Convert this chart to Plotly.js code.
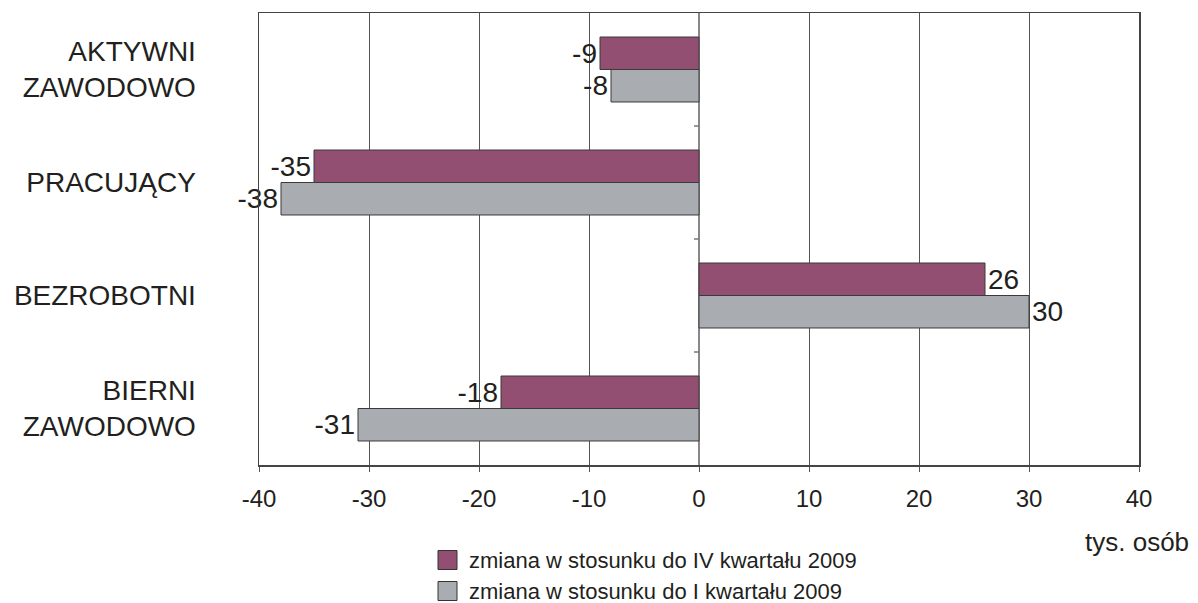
<!DOCTYPE html>
<html>
<head>
<meta charset="utf-8">
<script src="https://cdn.plot.ly/plotly-3.0.1.min.js"></script>
<style>html,body{margin:0;padding:0;background:#fff;}#chart{width:1198px;height:603px;}</style>
</head>
<body>
<div id="chart"></div>
<script>
const categories = ["AKTYWNI<br>ZAWODOWO", "PRACUJĄCY", "BEZROBOTNI", "BIERNI<br>ZAWODOWO"];
const seriesNames = ["zmiana w stosunku do IV kwartału 2009", "zmiana w stosunku do I kwartału 2009"];
const seriesColors = ["#934f72", "#a9acb1"];
const vsQ4_2009 = [-9, -35, 26, -18];
const vsQ1_2009 = [-8, -38, 30, -31];
const xTicks = [-40, -30, -20, -10, 0, 10, 20, 30, 40];
const unitLabel = "tys. osób";

const fontFam = "Liberation Sans, Arial, sans-serif";
const txtCol = "#231f20";

function barTrace(name, vals, color) {
  return {
    type: "bar", orientation: "h", name: name,
    y: categories, x: vals,
    marker: {color: color, line: {color: "#3a3a3a", width: 1}},
    text: vals.map(String), textposition: "outside", constraintext: "none",
    cliponaxis: false,
    textfont: {family: fontFam, size: 28, color: txtCol},
    hoverinfo: "x+name"
  };
}

const data = [
  barTrace(seriesNames[0], vsQ4_2009, seriesColors[0]),
  barTrace(seriesNames[1], vsQ1_2009, seriesColors[1])
];

// plot area in pixels
const W = 1198, H = 603, ML = 259, MR = 59, MT = 13, MB = 138;
const PW = W - ML - MR, PH = H - MT - MB;
const px2x = p => (p - ML) / PW;
const px2y = p => (H - MB - p) / PH;

const shapes = [0.5, 1.5, 2.5].map(v => ({
  type: "line", xref: "x", yref: "y", xsizemode: "pixel", xanchor: 0,
  x0: -5, x1: 0, y0: v, y1: v, line: {color: "#777", width: 1.5}
}));

// manual legend (two rows)
const legendRowsY = [560, 591];
const annotations = [];
seriesNames.forEach((nm, i) => {
  const cy = legendRowsY[i];
  shapes.push({
    type: "rect", xref: "paper", yref: "paper",
    x0: px2x(438), x1: px2x(457), y0: px2y(cy + 9.5), y1: px2y(cy - 9.5),
    fillcolor: seriesColors[i], line: {color: "#333", width: 1}
  });
  annotations.push({
    text: nm, xref: "paper", yref: "paper", x: px2x(467), y: px2y(cy),
    xanchor: "left", yanchor: "middle", showarrow: false,
    font: {family: fontFam, size: 22, color: txtCol}
  });
});
annotations.push({
  text: unitLabel, xref: "paper", yref: "paper", x: px2x(1137), y: px2y(542),
  xanchor: "center", yanchor: "middle", showarrow: false,
  font: {family: fontFam, size: 26, color: txtCol}
});

const layout = {
  width: W, height: H,
  margin: {l: ML, r: MR, t: MT, b: MB},
  paper_bgcolor: "#fff", plot_bgcolor: "#fff",
  font: {family: fontFam, color: txtCol},
  barmode: "group", bargap: 0.425, bargroupgap: 0,
  showlegend: false,
  xaxis: {
    range: [-40, 40], tickvals: xTicks, ticktext: xTicks.map(String),
    showgrid: true, gridcolor: "#555", gridwidth: 1,
    zeroline: true, zerolinecolor: "#888", zerolinewidth: 2,
    showline: true, linecolor: "#444", linewidth: 1.5, mirror: true,
    ticks: "outside", ticklen: 5, tickcolor: "#555", tickwidth: 1,
    ticklabelstandoff: 7,
    tickfont: {family: fontFam, size: 24, color: txtCol},
    fixedrange: true
  },
  yaxis: {
    type: "category", autorange: "reversed",
    showgrid: false, showline: true, linecolor: "#444", linewidth: 1.5, mirror: true,
    ticks: "outside", ticklen: 56, tickcolor: "rgba(0,0,0,0)",
    tickfont: {family: fontFam, size: 28, color: txtCol},
    fixedrange: true
  },
  shapes: shapes,
  annotations: annotations
};

Plotly.newPlot("chart", data, layout, {displayModeBar: false, staticPlot: true});
</script>
</body>
</html>
